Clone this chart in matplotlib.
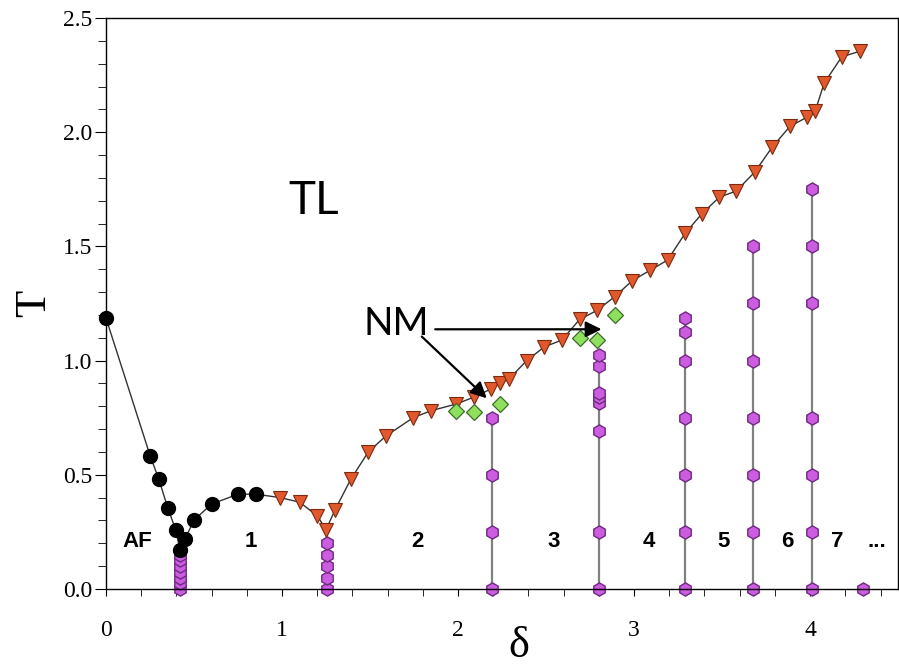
import matplotlib
matplotlib.use('Agg')
import matplotlib.pyplot as plt
from matplotlib.ticker import MultipleLocator

# black circles (AF boundary, then phase 1 dome)
af_x = [0.0, 0.25, 0.30, 0.35, 0.396, 0.42, 0.447, 0.50, 0.60, 0.75, 0.85]
af_T = [1.185, 0.584, 0.48, 0.356, 0.258, 0.17, 0.217, 0.302, 0.372, 0.415, 0.415]

# orange triangles (TL boundary)
tl_x = [0.99, 1.10, 1.20, 1.25, 1.30, 1.39, 1.49, 1.59, 1.745, 1.845, 1.99,
        2.09, 2.185, 2.24, 2.29, 2.39, 2.49, 2.59, 2.69, 2.79, 2.89, 2.99,
        3.09, 3.19, 3.29, 3.385, 3.485, 3.58, 3.685, 3.785, 3.885, 3.98,
        4.03, 4.08, 4.18, 4.285]
tl_T = [0.40, 0.38, 0.32, 0.26, 0.345, 0.48, 0.60, 0.67, 0.75, 0.78, 0.81,
        0.84, 0.875, 0.90, 0.92, 1.00, 1.06, 1.09, 1.18, 1.22, 1.28, 1.35,
        1.395, 1.44, 1.557, 1.643, 1.716, 1.742, 1.825, 1.935, 2.025, 2.065,
        2.095, 2.215, 2.33, 2.355]

# green diamonds (NM)
nm_x = [1.99, 2.09, 2.24, 2.69, 2.79, 2.89]
nm_T = [0.78, 0.775, 0.81, 1.10, 1.09, 1.20]

# purple columns (phase boundaries between stripe phases)
col_x = [0.42, 1.255, 2.19, 2.80, 3.29, 3.675, 4.01, 4.30]
col_T = [
    [0, 0.025, 0.05, 0.075, 0.10, 0.125, 0.15],
    [0, 0.05, 0.10, 0.15, 0.20],
    [0, 0.25, 0.5, 0.75],
    [0, 0.25, 0.69, 0.815, 0.84, 0.86, 0.975, 1.025],
    [0, 0.25, 0.5, 0.75, 1.0, 1.125, 1.185],
    [0, 0.25, 0.5, 0.75, 1.0, 1.25, 1.5],
    [0, 0.25, 0.5, 0.75, 1.25, 1.5, 1.75],
    [0],
]

# region labels
region_labels = ['AF', '1', '2', '3', '4', '5', '6', '7', '...']
region_x = [0.175, 0.82, 1.77, 2.54, 3.085, 3.51, 3.87, 4.155, 4.38]
region_T = 0.21

fig = plt.figure(figsize=(8.99, 6.67), dpi=100)
ax = fig.add_axes([0.118, 0.117, 0.881, 0.856])

# main transition line: black circles joined to orange triangles
ax.plot(af_x + tl_x, af_T + tl_T, color='#333333', lw=1.0, zorder=2)

for x, Ts in zip(col_x, col_T):
    ax.plot([x] * len(Ts), Ts, color='#808080', lw=1.6, zorder=2,
            marker='h', ms=9.5, mfc='#cc5ce0', mec='#6e2a80', mew=1.0,
            clip_on=False)

ax.plot(af_x, af_T, ls='none', marker='o', ms=10, mfc='black', mec='black',
        zorder=4, clip_on=False)
ax.plot(tl_x, tl_T, ls='none', marker='v', ms=9.5, mfc='#e0582b',
        mec='#7a2a10', mew=0.8, zorder=3)
ax.plot(nm_x, nm_T, ls='none', marker='D', ms=8, mfc='#90e060',
        mec='#3f6b2a', mew=0.9, zorder=3)

for lab, x in zip(region_labels, region_x):
    ax.text(x, region_T, lab, ha='center', va='center', fontsize=16,
            fontweight='bold', family='Liberation Sans')

ax.text(1.177, 1.70, 'TL', ha='center', va='center', fontsize=33,
        family='Lato')
ax.text(1.648, 1.16, 'NM', ha='center', va='center', fontsize=28,
        family='Lato')

arrow = dict(arrowstyle='-|>', color='black', lw=1.6, mutation_scale=24,
             shrinkA=0, shrinkB=0)
ax.annotate('', xy=(2.815, 1.137), xytext=(1.87, 1.137), arrowprops=arrow)
ax.annotate('', xy=(2.163, 0.835), xytext=(1.794, 1.105), arrowprops=arrow)

ax.set_xlim(0, 4.5)
ax.set_ylim(0, 2.5)
ax.set_xticks([0, 1, 2, 3, 4])
ax.set_yticks([0, 0.5, 1.0, 1.5, 2.0, 2.5])
ax.set_yticklabels(['0.0', '0.5', '1.0', '1.5', '2.0', '2.5'])
ax.xaxis.set_minor_locator(MultipleLocator(0.2))
ax.yaxis.set_minor_locator(MultipleLocator(0.1))
ax.tick_params(axis='both', which='both', direction='out', top=False,
               right=False, labelsize=17)
ax.tick_params(axis='y', which='major', length=8, pad=2)
ax.tick_params(axis='y', which='minor', length=6)
ax.tick_params(axis='x', which='both', length=5, pad=17)
for lab in ax.get_xticklabels() + ax.get_yticklabels():
    lab.set_family('Liberation Serif')
for sp in ax.spines.values():
    sp.set_linewidth(1.0)

ax.set_xlabel('δ', fontsize=32, family='Liberation Serif')
ax.xaxis.set_label_coords(0.521, -0.065)
ax.set_ylabel('T', fontsize=32, family='Liberation Serif')
ax.yaxis.set_label_coords(-0.066, 0.5)

fig.savefig('out.png', dpi=100)
